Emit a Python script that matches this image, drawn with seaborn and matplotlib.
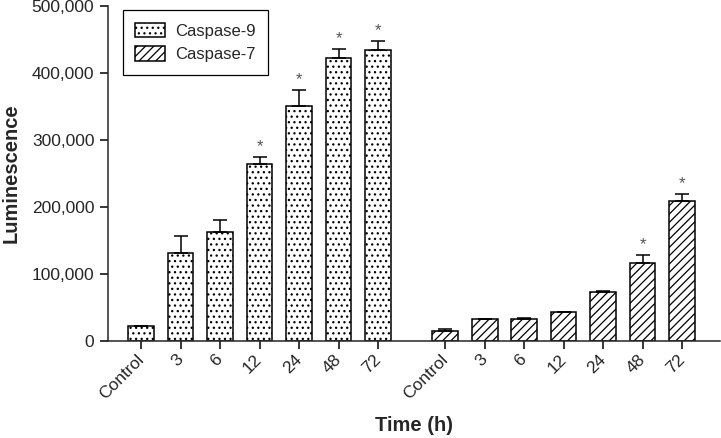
import numpy as np
import pandas as pd
import matplotlib
matplotlib.use("Agg")
import matplotlib.pyplot as plt
from matplotlib.patches import Patch
import seaborn as sns

# === Дані ===
time_labels = ["Control", "3", "6", "12", "24", "48", "72"]
casp9_mean = [21600, 131000, 163000, 264000, 350000, 422000, 434000]
casp9_upper = [22600, 157000, 180000, 275000, 374000, 436000, 448000]
casp9_sig = [False, False, False, True, True, True, True]
casp7_mean = [14500, 32000, 32500, 42500, 73000, 115500, 209000]
casp7_upper = [18000, 32600, 33200, 43600, 73600, 127500, 219000]
casp7_sig = [False, False, False, False, False, True, True]

group_names = ["Caspase-9", "Caspase-7"]
group_offset = 7.7

n = len(time_labels)
pos9 = np.arange(n, dtype=float)
pos7 = pos9 + group_offset

df = pd.DataFrame({
    "pos": np.concatenate([pos9, pos7]),
    "value": casp9_mean + casp7_mean,
    "upper": casp9_upper + casp7_upper,
    "sig": casp9_sig + casp7_sig,
    "group": [group_names[0]] * n + [group_names[1]] * n,
})

sns.set_style("ticks")
plt.rcParams["font.family"] = ["Liberation Sans", "DejaVu Sans"]
plt.rcParams["hatch.linewidth"] = 0.9

fig = plt.figure(figsize=(7.21, 4.38), dpi=100)
ax = fig.add_axes([108 / 721, 97.3 / 438, 612 / 721, 334.7 / 438])

sns.barplot(
    data=df, x="pos", y="value", hue="group", native_scale=True, dodge=False,
    palette=["white", "white"], edgecolor="black", linewidth=1.1,
    width=0.65, errorbar=None, legend=False, ax=ax,
)

hatches = ["...", "////"]
for cont, h in zip(ax.containers, hatches):
    for bar in cont:
        bar.set_hatch(h)

# лише верхні похибки
ax.errorbar(
    df["pos"], df["upper"], yerr=[df["upper"] - df["value"], np.zeros(len(df))],
    fmt="none", ecolor="black", elinewidth=1.1, capsize=5.2, capthick=1.1,
    zorder=1,
)
for p, u, s in zip(df["pos"], df["upper"], df["sig"]):
    if s:
        ax.annotate("*", (p, u), xytext=(0, 2), textcoords="offset points",
                    ha="center", va="bottom", fontsize=12, color="#555555")

ax.set_xlim(-0.84, pos7[-1] + 0.96)
ax.set_ylim(0, 500000)
ax.set_yticks(np.arange(0, 500001, 100000))
ax.set_yticklabels([f"{int(v):,}" for v in np.arange(0, 500001, 100000)])
ax.set_xticks(np.concatenate([pos9, pos7]))
ax.set_xticklabels(time_labels + time_labels, rotation=45, ha="right",
                   va="center", rotation_mode="anchor")

sns.despine(ax=ax)
for sp in ["left", "bottom"]:
    ax.spines[sp].set_linewidth(1.1)
ax.tick_params(axis="both", length=5.8, width=1.1, labelsize=12.5, pad=4,
               color="black")
ax.tick_params(axis="x", pad=6)

ax.set_xlabel("Time (h)", fontsize=14.5, fontweight="bold", labelpad=10)
ax.set_ylabel("Luminescence", fontsize=14.5, fontweight="bold", labelpad=8)

handles = [Patch(facecolor="white", edgecolor="black", hatch=h, linewidth=1.1,
                 label=g) for h, g in zip(hatches, group_names)]
leg = ax.legend(handles=handles, loc="upper left", bbox_to_anchor=(0.0245, 0.988),
                borderaxespad=0, fontsize=12, frameon=True, fancybox=False,
                edgecolor="black", framealpha=1, handlelength=1.8,
                handleheight=1.0, handletextpad=0.55, labelspacing=0.45,
                borderpad=0.75)
leg.get_frame().set_linewidth(0.9)

fig.savefig("out.png", dpi=100)
